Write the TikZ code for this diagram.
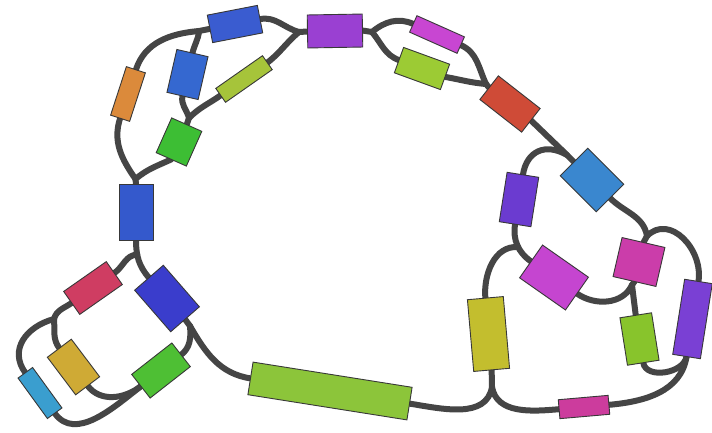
\documentclass[tikz,border=0pt]{standalone}
\usetikzlibrary{backgrounds}
\definecolor{wirec}{HTML}{454545}
\definecolor{cO1}{HTML}{DB8A3B}
\definecolor{cB1}{HTML}{3A5CD0}
\definecolor{cB2}{HTML}{3568D0}
\definecolor{cY1}{HTML}{A6C43A}
\definecolor{cG1}{HTML}{3DBE34}
\definecolor{cP1}{HTML}{9A40D2}
\definecolor{cM1}{HTML}{C846D2}
\definecolor{cY2}{HTML}{9CCB34}
\definecolor{cR1}{HTML}{CF4B37}
\definecolor{cSB}{HTML}{3A87CF}
\definecolor{cV1}{HTML}{6B3BD0}
\definecolor{cM2}{HTML}{C545D0}
\definecolor{cMP}{HTML}{CB3DAA}
\definecolor{cLG}{HTML}{88C42C}
\definecolor{cV2}{HTML}{7A40D4}
\definecolor{cPB}{HTML}{CC3C9D}
\definecolor{cOY}{HTML}{C3BE2E}
\definecolor{cLGr}{HTML}{8CC53A}
\definecolor{cB3}{HTML}{3459CC}
\definecolor{cCR}{HTML}{CF3D62}
\definecolor{cDB}{HTML}{3A3DCC}
\definecolor{cGD}{HTML}{CFAA35}
\definecolor{cGL}{HTML}{4EBF34}
\definecolor{cCY}{HTML}{3A9ECF}
\begin{document}
\begin{tikzpicture}[x=1pt,y=1pt,
  box/.style={rectangle,draw=black!78,line width=0.9pt,inner sep=0pt,outer sep=0pt},
  wire/.style={draw=wirec,line width=6pt,line cap=round}]
\useasboundingbox (0,-432) rectangle (712,0);
% boxes
\node[box,fill=cO1,minimum width=51pt,minimum height=20pt,rotate=72] (O1) at (128,-94) {};
\node[box,fill=cB1,minimum width=51pt,minimum height=28pt,rotate=11] (B1) at (235,-24) {};
\node[box,fill=cB2,minimum width=44pt,minimum height=32pt,rotate=77] (B2) at (187.5,-74.5) {};
\node[box,fill=cY1,minimum width=57pt,minimum height=17pt,rotate=35] (Y1) at (244,-79) {};
\node[box,fill=cG1,minimum width=38pt,minimum height=33pt,rotate=66] (G1) at (179,-142) {};
\node[box,fill=cP1,minimum width=55pt,minimum height=33pt,rotate=1] (P1) at (335,-31) {};
\node[box,fill=cM1,minimum width=52pt,minimum height=18pt,rotate=-24] (M1) at (437,-34.5) {};
\node[box,fill=cY2,minimum width=49pt,minimum height=27pt,rotate=-20] (Y2) at (422,-68.5) {};
\node[box,fill=cR1,minimum width=53pt,minimum height=30pt,rotate=-38] (R1) at (510,-104) {};
\node[box,fill=cSB,minimum width=51pt,minimum height=39pt,rotate=-45] (SB) at (592,-180) {};
\node[box,fill=cV1,minimum width=50pt,minimum height=32pt,rotate=81] (V1) at (519,-199.5) {};
\node[box,fill=cM2,minimum width=56pt,minimum height=40pt,rotate=-35] (M2) at (554,-277.5) {};
\node[box,fill=cMP,minimum width=44pt,minimum height=40pt,rotate=-13] (MP) at (639,-262) {};
\node[box,fill=cLG,minimum width=32pt,minimum height=48pt,rotate=9] (LG) at (639.5,-339) {};
\node[box,fill=cV2,minimum width=28pt,minimum height=76pt,rotate=-9] (V2) at (692.5,-319) {};
\node[box,fill=cPB,minimum width=50pt,minimum height=19pt,rotate=5] (PB) at (584,-407) {};
\node[box,fill=cOY,minimum width=36pt,minimum height=72pt,rotate=5] (OY) at (488.5,-334) {};
\node[box,fill=cLGr,minimum width=161pt,minimum height=33pt,rotate=-9] (LGr) at (330,-391) {};
\node[box,fill=cB3,minimum width=34pt,minimum height=56pt] (B3) at (136,-212) {};
\node[box,fill=cCR,minimum width=52pt,minimum height=28pt,rotate=35] (CR) at (93,-288) {};
\node[box,fill=cDB,minimum width=55pt,minimum height=38pt,rotate=-49] (DB) at (167,-298.5) {};
\node[box,fill=cGD,minimum width=47pt,minimum height=30pt,rotate=-53] (GD) at (73.5,-367) {};
\node[box,fill=cGL,minimum width=51pt,minimum height=30pt,rotate=38] (GL) at (161,-370.5) {};
\node[box,fill=cCY,minimum width=50pt,minimum height=18pt,rotate=-54] (CY) at (40,-393) {};
% junctions
\coordinate (J1) at (135.5,-179);
\coordinate (J2) at (199,-31);
\coordinate (J3) at (189,-118);
\coordinate (J4) at (299,-32);
\coordinate (J5) at (372,-32);
\coordinate (J6) at (486,-84);
\coordinate (J7) at (567,-155);
\coordinate (J9) at (647,-236);
\coordinate (J10) at (632,-285);
\coordinate (J12) at (492,-387);
\coordinate (J13) at (190,-326);
\coordinate (J15) at (54,-319);
\begin{pgfonlayer}{background}
\fill[white] (0,-432) rectangle (712,0);
\draw[wire] (B3.north) -- (J1);
\draw[wire] (J1) to[out=125,in=252] (O1.west);
\draw[wire] (J1) to[out=40,in=205] (G1.west);
\draw[wire] (O1.east) to[out=72,in=185] (J2);
\draw[wire] (B2.east) to[out=77,in=265] (J2);
\draw[wire] (J2) -- (B1.west);
\draw[wire] (G1.east) -- (J3);
\draw[wire] (J3) to[out=105,in=257] (B2.west);
\draw[wire] (J3) to[out=45,in=215] (Y1.west);
\draw[wire] (B1.east) to[out=11,in=165] (J4);
\draw[wire] (Y1.east) to[out=38,in=220] (J4);
\draw[wire] (J4) -- (P1.west);
\draw[wire] (P1.east) -- (J5);
\draw[wire] (J5) to[out=40,in=156] (M1.west);
\draw[wire] (J5) to[out=-50,in=160] (Y2.west);
\draw[wire] (M1.east) to[out=-24,in=115] (J6);
\draw[wire] (Y2.east) to[out=-10,in=175] (J6);
\draw[wire] (J6) -- (R1.west);
\draw[wire] (R1.east) -- (J7) -- (SB.west);
\draw[wire] (J7) to[out=150,in=81,looseness=1.3] (V1.east);
\draw[wire] (V1.west) to[out=261,in=145] node[coordinate,pos=0.55] (J8) {} (M2.west);
\draw[wire] (J8) to[out=175,in=95] (OY.north);
\draw[wire] (SB.east) to[out=-45,in=100] (J9);
\draw[wire] (J9) -- (MP.north);
\draw[wire] (J9) to[out=45,in=81,looseness=1.2] (V2.north);
\draw[wire] (M2.east) to[out=-35,in=245] (J10);
\draw[wire] (J10) -- (MP.south);
\draw[wire] (J10) -- (LG.north);
\draw[wire] (LG.south) to[out=-81,in=-99] (V2.south);
\draw[wire] (V2.south) to[out=-99,in=5] (PB.east);
\draw[wire] (OY.south) -- (J12);
\draw[wire] (J12) to[out=-80,in=185] (PB.west);
\draw[wire] (J12) to[out=-100,in=-9] (LGr.east);
\draw[wire] (DB.east) -- (J13);
\draw[wire] (J13) to[out=-60,in=171] (LGr.west);
\draw[wire] (J13) to[out=-85,in=38] (GL.east);
\draw[wire] (B3.south) to[out=-90,in=131] node[coordinate,pos=0.35] (J14) {} (DB.west);
\draw[wire] (J14) to[out=180,in=35] (CR.east);
\draw[wire] (CR.west) to[out=215,in=75] (J15);
\draw[wire] (J15) to[out=-85,in=127] (GD.west);
\draw[wire] (J15) to[out=195,in=126,looseness=1.2] (CY.west);
\draw[wire] (GD.east) to[out=-53,in=218] (GL.west);
\draw[wire] (CY.east) to[out=-54,in=218] (GL.west);
\end{pgfonlayer}
\end{tikzpicture}
\end{document}
